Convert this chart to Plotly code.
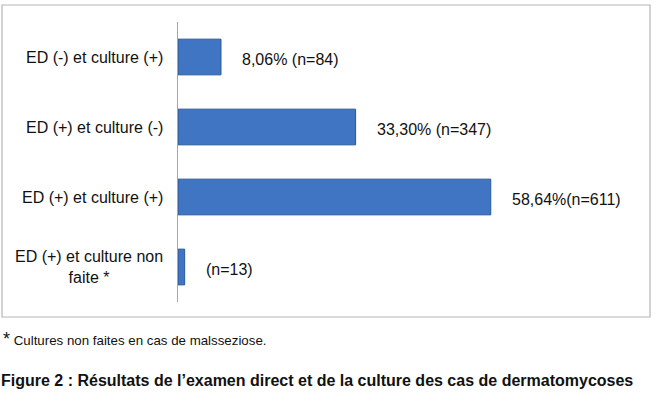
import plotly.graph_objects as go

categories = [
    "ED (-) et culture (+)",
    "ED (+) et culture (-)",
    "ED (+) et culture (+)",
    "ED (+) et culture non<br>faite *",
]
pct = [8.06, 33.30, 58.64, 1.25]
labels = ["8,06% (n=84)", "33,30% (n=347)", "58,64%(n=611)", "(n=13)"]

footnote = "Cultures non faites en cas de malsseziose."
caption = "Figure 2 : Résultats de l’examen direct et de la culture des cas de dermatomycoses"

W, H = 659, 401
font = "Liberation Sans, Arial, sans-serif"

fig = go.Figure(go.Bar(
    x=pct, y=categories, orientation="h",
    width=0.51,
    marker=dict(color="#3f75c2", line=dict(color="#2b5796", width=1)),
    hoverinfo="skip",
))

# value labels right of each bar
for c, v, t in zip(categories, pct, labels):
    fig.add_annotation(x=v, y=c, xref="x", yref="y", text=t, showarrow=False,
                       xanchor="left", xshift=19, yshift=-2,
                       font=dict(family=font, size=16, color="#111"))

# category labels (centred multi-line)
for c in categories:
    fig.add_annotation(x=0, y=c, xref="paper", yref="y", text=c, showarrow=False,
                       xanchor="right", xshift=-13, align="center",
                       font=dict(family=font, size=16, color="#111"))

# outer frame
fig.add_shape(type="rect", xref="paper", yref="paper",
              x0=-176 / 400, x1=472 / 400, y0=-15 / 280, y1=297 / 280,
              line=dict(color="#b5b5b5", width=1.2), fillcolor="rgba(0,0,0,0)")

fig.add_annotation(xref="paper", yref="paper", x=-177 / 400, y=-37 / 280,
                   text="<span style='font-size:18px'>*</span> " + footnote,
                   showarrow=False, xanchor="left", yanchor="middle",
                   font=dict(family=font, size=13.3, color="#111"))
fig.add_annotation(xref="paper", yref="paper", x=-179 / 400, y=-79 / 280,
                   text="<b>" + caption + "</b>",
                   showarrow=False, xanchor="left", yanchor="middle",
                   font=dict(family=font, size=16, color="#111"))

fig.update_layout(
    width=W, height=H,
    margin=dict(l=178, r=W - 178 - 400, t=22, b=H - 22 - 280),
    paper_bgcolor="white", plot_bgcolor="white",
    showlegend=False,
    xaxis=dict(range=[0, 75], visible=False, fixedrange=True),
    yaxis=dict(autorange="reversed", showticklabels=False, ticks="",
               showline=True, linecolor="#a6a6a6", linewidth=1.2,
               showgrid=False, zeroline=False),
)

fig.write_html("out.html", config={"displayModeBar": False},
               post_script="document.body.style.margin='0';document.body.style.overflow='hidden';")
